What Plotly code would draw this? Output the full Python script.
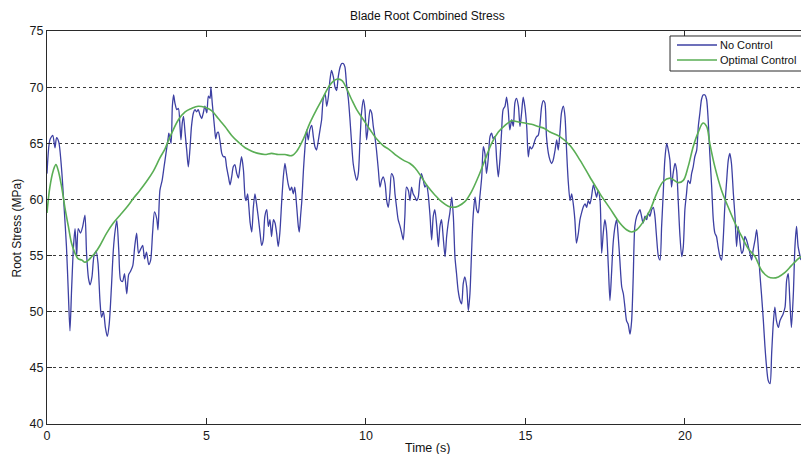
import plotly.graph_objects as go

# Blade root combined stress, uncontrolled rotor (sampled time history)
no_control_time = [
    0.00, 0.09, 0.18, 0.25, 0.30, 0.37, 0.46, 0.53, 0.61, 0.67, 0.72, 0.77, 0.83, 0.88, 0.93, 0.98,
    1.05, 1.12, 1.19, 1.24, 1.30, 1.35, 1.41, 1.47, 1.54, 1.60, 1.66, 1.71, 1.77, 1.83, 1.89, 1.95,
    2.02, 2.08, 2.14, 2.19, 2.25, 2.31, 2.37, 2.43, 2.50, 2.56, 2.62, 2.69, 2.75, 2.81, 2.87, 2.94,
    3.00, 3.06, 3.12, 3.19, 3.25, 3.31, 3.37, 3.44, 3.48, 3.54, 3.61, 3.67, 3.73, 3.80,
    3.82, 3.89, 3.93, 3.97, 4.01, 4.07, 4.12, 4.17, 4.20, 4.24, 4.28, 4.33, 4.38, 4.43, 4.48, 4.53,
    4.59, 4.64, 4.69, 4.74, 4.80, 4.85, 4.90, 4.95, 5.01, 5.06, 5.11, 5.14, 5.18, 5.25, 5.29, 5.33,
    5.37, 5.42, 5.48, 5.53, 5.58, 5.63, 5.69, 5.74, 5.79, 5.84, 5.89, 5.95, 6.00, 6.05, 6.10, 6.16,
    6.21, 6.24, 6.29, 6.33, 6.37, 6.42, 6.47, 6.52, 6.57, 6.62, 6.68, 6.73, 6.78, 6.83, 6.89, 6.94,
    6.99, 7.04, 7.10, 7.15, 7.20, 7.25, 7.30, 7.36, 7.41, 7.46, 7.51, 7.56, 7.62, 7.67, 7.72, 7.77,
    7.83, 7.88, 7.91, 7.95, 7.99, 8.04, 8.09, 8.14, 8.19, 8.24, 8.30, 8.35, 8.40, 8.45, 8.51, 8.56,
    8.61, 8.66, 8.72, 8.77, 8.82, 8.87, 8.92, 8.98, 9.03, 9.08, 9.13, 9.19, 9.24, 9.29, 9.34, 9.39,
    9.45, 9.50, 9.55, 9.60, 9.66, 9.71, 9.76, 9.81, 9.86, 9.92, 9.97, 10.02, 10.07, 10.13, 10.18, 10.23,
    10.28, 10.33, 10.39, 10.44, 10.49, 10.54, 10.60, 10.65, 10.70, 10.75, 10.80, 10.86, 10.91, 10.96, 11.01, 11.07,
    11.12, 11.17, 11.22, 11.27, 11.33, 11.38, 11.43, 11.48, 11.54, 11.59, 11.64, 11.69,
    11.74, 11.80, 11.85, 11.90, 11.95, 12.01, 12.06, 12.11, 12.16, 12.22, 12.27, 12.32, 12.37, 12.42, 12.48, 12.53,
    12.58, 12.63, 12.69, 12.74, 12.79, 12.84, 12.89, 12.95, 13.00, 13.05, 13.10, 13.16, 13.21, 13.26, 13.31, 13.36,
    13.42, 13.47, 13.52, 13.57, 13.63, 13.68, 13.73, 13.78, 13.83, 13.89, 13.94, 13.99, 14.04, 14.10, 14.15, 14.20,
    14.25, 14.30, 14.36, 14.41, 14.46, 14.51, 14.57, 14.62, 14.67, 14.72, 14.78, 14.83, 14.88, 14.93, 14.98, 15.04,
    15.09, 15.14, 15.19, 15.25, 15.30, 15.35, 15.40, 15.45, 15.51, 15.56, 15.61,
    15.66, 15.72, 15.77, 15.82, 15.87, 15.93, 15.98, 16.03, 16.08, 16.13, 16.19, 16.24, 16.29, 16.34, 16.40, 16.45,
    16.50, 16.55, 16.60, 16.66, 16.71, 16.76, 16.81, 16.87, 16.92, 16.97, 17.02, 17.07, 17.13, 17.18, 17.23, 17.28,
    17.34, 17.39, 17.44, 17.49, 17.54, 17.60, 17.65, 17.70, 17.75, 17.81, 17.86, 17.91, 17.96, 18.02, 18.07, 18.12,
    18.17, 18.22, 18.28, 18.33, 18.38, 18.43, 18.49, 18.54, 18.59, 18.64, 18.69, 18.75, 18.80, 18.85, 18.90, 18.96,
    19.01, 19.06, 19.11, 19.17, 19.22, 19.27, 19.32, 19.37, 19.43, 19.48, 19.53,
    19.58, 19.63, 19.69, 19.74, 19.79, 19.84, 19.90, 19.95, 20.00, 20.05, 20.10, 20.16, 20.21, 20.26, 20.31, 20.37,
    20.42, 20.47, 20.52, 20.57, 20.63, 20.68, 20.73, 20.78, 20.84, 20.89, 20.94, 20.99, 21.04, 21.10, 21.15, 21.20,
    21.25, 21.31, 21.36, 21.41, 21.46, 21.52, 21.57, 21.62, 21.67, 21.72, 21.78, 21.83, 21.88, 21.93, 21.99, 22.04,
    22.09, 22.14, 22.20, 22.25, 22.30, 22.35, 22.40, 22.46, 22.51, 22.56, 22.61, 22.67, 22.72, 22.77, 22.82, 22.87,
    22.93, 22.98, 23.03, 23.08, 23.14, 23.19, 23.24, 23.29, 23.34, 23.40, 23.45, 23.50, 23.55, 23.64,
]
no_control_stress = [
    62.3, 65.3, 65.7, 64.6, 65.5, 65.1, 62.6, 59.6, 55.8, 51.6, 48.3, 51.9, 55.8, 57.4, 55.0, 57.4,
    57.0, 57.6, 58.6, 55.2, 53.0, 52.4, 53.1, 54.9, 55.4, 54.3, 51.0, 49.5, 50.0, 48.6, 47.8, 48.9,
    52.2, 55.5, 57.3, 58.1, 55.5, 52.8, 52.7, 53.4, 51.6, 53.3, 53.6, 54.1, 55.8, 57.0, 55.2, 55.6,
    55.9, 54.7, 55.3, 54.2, 54.6, 57.0, 58.9, 58.3, 57.3, 60.8, 61.7, 62.9, 64.1, 65.5,
    65.9, 65.0, 68.3, 69.3, 68.6, 68.0, 68.1, 66.5, 65.3, 66.8, 67.4, 65.9, 64.4, 62.9, 64.4, 66.5,
    67.7, 68.0, 67.8, 68.0, 67.5, 67.2, 67.7, 68.3, 67.7, 69.2, 69.0, 70.0, 68.6, 66.5, 65.4, 65.9,
    66.0, 65.3, 64.1, 63.8, 63.8, 62.9, 62.0, 61.3, 62.0, 62.9, 63.1, 62.3, 61.9, 62.9, 63.8, 62.6,
    60.2, 59.9, 60.5, 59.3, 57.9, 57.1, 59.3, 60.5, 59.6, 58.5, 57.0, 55.9, 56.4, 58.5, 59.1, 57.6,
    58.2, 56.7, 58.2, 57.9, 57.0, 55.8, 57.0, 59.9, 62.0, 63.2, 62.3, 61.4, 60.8, 61.1, 60.5, 61.1,
    59.3, 57.6, 57.1, 58.5, 59.9, 62.6, 64.7, 66.2, 65.3, 66.2, 66.6, 65.6, 64.7, 64.4, 65.3, 66.2,
    67.1, 68.9, 69.4, 68.3, 69.1, 70.6, 71.5, 70.9, 70.0, 69.7, 70.9, 71.8, 72.1, 72.1, 71.8, 70.3,
    68.9, 67.1, 65.0, 63.2, 62.2, 61.7, 62.3, 65.0, 67.7, 68.9, 68.0, 65.3, 66.5, 68.0, 67.7, 66.5,
    65.6, 64.4, 62.6, 61.1, 61.7, 62.0, 61.4, 59.9, 59.3, 60.5, 62.3, 62.0, 60.5, 59.3, 58.2, 57.6,
    57.0, 56.4, 58.5, 61.1, 60.8, 59.9, 61.1, 60.5, 60.2, 59.9, 60.2, 61.7,
    62.3, 61.7, 61.1, 61.3, 60.5, 58.5, 56.4, 58.5, 59.1, 57.6, 55.8, 57.6, 58.2, 56.7, 54.9, 56.7,
    57.9, 58.8, 60.2, 58.5, 54.9, 53.4, 51.9, 51.0, 50.7, 52.5, 53.1, 52.2, 50.1, 51.6, 55.2, 58.5,
    60.2, 59.1, 58.8, 60.2, 62.0, 64.7, 64.1, 62.3, 63.5, 65.6, 65.9, 65.4, 65.6, 63.5, 62.0, 63.5,
    65.9, 68.0, 68.3, 69.1, 68.0, 66.2, 67.1, 66.5, 68.6, 69.0, 68.3, 66.5, 67.7, 69.1, 68.3, 66.5,
    63.8, 64.7, 64.5, 64.8, 65.3, 65.6, 65.7, 66.5, 68.3, 68.8, 68.6,
    65.6, 64.1, 63.5, 63.2, 63.5, 64.4, 65.3, 64.4, 65.9, 67.7, 68.3, 67.4, 64.4, 61.7, 59.9, 60.5,
    59.6, 58.2, 56.1, 57.0, 58.2, 58.8, 59.3, 59.6, 59.3, 59.9, 59.6, 60.2, 61.3, 60.8, 60.2, 60.8,
    59.9, 55.2, 57.0, 58.2, 57.3, 54.0, 51.0, 53.4, 56.1, 57.6, 58.2, 56.7, 54.6, 52.2, 51.6, 50.4,
    49.2, 48.9, 48.0, 49.2, 53.1, 57.6, 58.5, 58.8, 59.1, 58.5, 57.9, 58.5, 58.2, 58.8, 58.5, 59.1,
    59.3, 58.5, 56.7, 54.9, 54.6, 57.6, 60.5, 63.5, 65.0, 64.4, 63.5,
    61.1, 62.3, 63.2, 62.6, 59.9, 57.0, 54.9, 55.8, 59.1, 60.5, 61.7, 61.4, 62.3, 62.9, 63.8, 64.4,
    66.5, 67.7, 68.9, 69.3, 69.3, 68.9, 67.1, 64.1, 61.1, 58.2, 57.0, 56.7, 55.8, 54.9, 54.6, 56.4,
    59.3, 61.7, 63.5, 64.1, 63.2, 60.5, 58.5, 55.8, 57.6, 56.4, 55.2, 55.5, 56.7, 56.4, 55.8, 55.2,
    54.6, 55.5, 56.4, 57.3, 55.8, 53.4, 51.6, 49.2, 46.9, 45.1, 43.9, 43.6, 46.3, 48.9, 50.4, 49.2,
    48.6, 49.2, 49.5, 49.8, 50.4, 52.8, 53.4, 51.0, 48.6, 51.6, 55.8, 57.6, 55.8, 54.6,
]

# Blade root combined stress with optimal control
optimal_time = [
    0.00, 0.09, 0.20, 0.28, 0.35, 0.46, 0.56, 0.67, 0.77, 0.88, 0.98, 1.09, 1.19, 1.30, 1.40, 1.50,
    1.66, 1.87, 2.08, 2.29, 2.50, 2.71, 2.91, 3.12, 3.33, 3.54, 3.70, 3.80, 3.91, 4.12, 4.33, 4.53,
    4.74, 4.95, 5.16, 5.37, 5.58, 5.79, 6.00, 6.21, 6.42, 6.62, 6.83, 7.04, 7.25, 7.46, 7.67, 7.83,
    8.04, 8.24, 8.45, 8.66, 8.87, 9.08, 9.24, 9.39, 9.55, 9.71, 9.92, 10.13, 10.33, 10.54, 10.75, 10.96,
    11.17, 11.38, 11.54, 11.74, 11.95, 12.16, 12.37, 12.58, 12.74, 12.89, 13.10, 13.31, 13.52, 13.73, 13.94, 14.15,
    14.36, 14.57, 14.78, 14.98, 15.19, 15.40, 15.61, 15.77, 16.08, 16.40, 16.71, 17.02, 17.34, 17.65, 17.96, 18.17,
    18.33, 18.49, 18.69, 18.90, 19.11, 19.32, 19.53, 19.79, 19.95, 20.10, 20.26, 20.42, 20.57, 20.68, 20.78, 20.94,
    21.15, 21.36, 21.57, 21.78, 21.99, 22.20, 22.40, 22.61, 22.77, 22.93, 23.14, 23.34, 23.55, 23.64,
]
optimal_stress = [
    58.8, 61.1, 62.6, 63.1, 62.6, 61.1, 59.3, 57.6, 56.1, 55.2, 54.7, 54.6, 54.4, 54.6, 54.9, 55.2,
    55.9, 57.0, 57.9, 58.6, 59.3, 60.1, 60.8, 61.6, 62.5, 63.7, 64.5, 65.2, 65.9, 67.1, 67.8, 68.1,
    68.3, 68.2, 67.9, 67.2, 66.5, 65.7, 65.1, 64.6, 64.3, 64.1, 64.0, 64.1, 64.0, 64.0, 63.9, 64.3,
    65.4, 66.8, 68.0, 69.1, 70.2, 70.7, 70.6, 69.9, 68.9, 68.0, 67.1, 66.2, 65.4, 64.8, 64.4, 63.9,
    63.5, 63.2, 62.8, 62.0, 61.1, 60.4, 59.8, 59.4, 59.3, 59.4, 59.8, 60.7, 62.0, 63.5, 65.0, 66.0,
    66.6, 67.0, 66.9, 66.8, 66.7, 66.5, 66.3, 66.0, 65.6, 64.8, 63.5, 62.0, 60.5, 59.2, 57.9, 57.3,
    57.1, 57.3, 58.0, 59.0, 60.5, 61.6, 61.9, 61.5, 61.7, 62.9, 64.7, 66.0, 66.8, 66.5, 65.0, 62.9,
    60.8, 59.3, 57.9, 56.7, 55.6, 54.9, 53.7, 53.1, 53.0, 53.1, 53.5, 54.1, 54.7, 54.9,
]

y_ticks = [40, 45, 50, 55, 60, 65, 70, 75]
x_ticks = [0, 5, 10, 15, 20]

FONT = "Liberation Sans, Arial, sans-serif"
AXIS_COLOR = "#2a2a2a"
BLUE = "#3d40a3"
GREEN = "#5aae55"

fig = go.Figure()
fig.add_trace(go.Scatter(
    x=no_control_time, y=no_control_stress, mode="lines", name="No Control",
    line=dict(color=BLUE, width=1.3, shape="spline", smoothing=0.7),
))
fig.add_trace(go.Scatter(
    x=optimal_time, y=optimal_stress, mode="lines", name="Optimal Control",
    line=dict(color=GREEN, width=1.6, shape="spline", smoothing=1.0),
))

# Boxed legend in the top-right corner, drawn in paper coordinates
legend_entries = [("No Control", BLUE), ("Optimal Control", GREEN)]
shapes = [dict(type="rect", xref="paper", yref="paper", x0=0.8263, x1=1.03, y0=0.8982, y1=0.9873,
               line=dict(color=AXIS_COLOR, width=1), fillcolor="white", layer="above")]
annotations = []
for i, (label, color) in enumerate(legend_entries):
    ly = 0.9644 - i * 0.0382
    shapes.append(dict(type="line", xref="paper", yref="paper", x0=0.8355, x1=0.8886, y0=ly, y1=ly,
                       line=dict(color=color, width=1.6), layer="above"))
    annotations.append(dict(text=label, x=0.8899, y=ly, xref="paper", yref="paper",
                            xanchor="left", yanchor="middle", showarrow=False,
                            font=dict(family=FONT, size=11, color="#111")))

annotations += [
    dict(text="Blade Root Combined Stress", x=0.5053, y=1.038, xref="paper", yref="paper",
         xanchor="center", yanchor="middle", showarrow=False,
         font=dict(family=FONT, size=12, color="#111")),
    dict(text="Time (s)", x=0.5053, y=-0.061, xref="paper", yref="paper",
         xanchor="center", yanchor="middle", showarrow=False,
         font=dict(family=FONT, size=12.5, color="#111")),
    dict(text="Root Stress (MPa)", x=-0.0398, y=0.5, xref="paper", yref="paper",
         xanchor="center", yanchor="middle", textangle=-90, showarrow=False,
         font=dict(family=FONT, size=12, color="#111")),
]

fig.update_layout(
    width=801, height=454,
    margin=dict(l=47, r=0, t=31, b=30),
    paper_bgcolor="white", plot_bgcolor="white",
    font=dict(family=FONT, size=12, color="#1a1a1a"),
    showlegend=False,
    xaxis=dict(
        range=[0, 23.64], tickvals=x_ticks, ticks="inside", ticklen=6,
        tickcolor=AXIS_COLOR, showline=True, linecolor=AXIS_COLOR, linewidth=1.3,
        mirror="ticks", showgrid=False, zeroline=False,
        tickfont=dict(size=12.5, color="#1a1a1a"),
    ),
    yaxis=dict(
        range=[40, 75], tickvals=y_ticks, ticks="inside", ticklen=5,
        tickcolor=AXIS_COLOR, showline=True, linecolor=AXIS_COLOR, linewidth=1.3,
        showgrid=True, gridcolor="#3a3a3a", griddash="dot", gridwidth=1,
        zeroline=False, tickfont=dict(size=12.5, color="#1a1a1a"),
    ),
    shapes=shapes,
    annotations=annotations,
)

fig.write_html("out.html")
